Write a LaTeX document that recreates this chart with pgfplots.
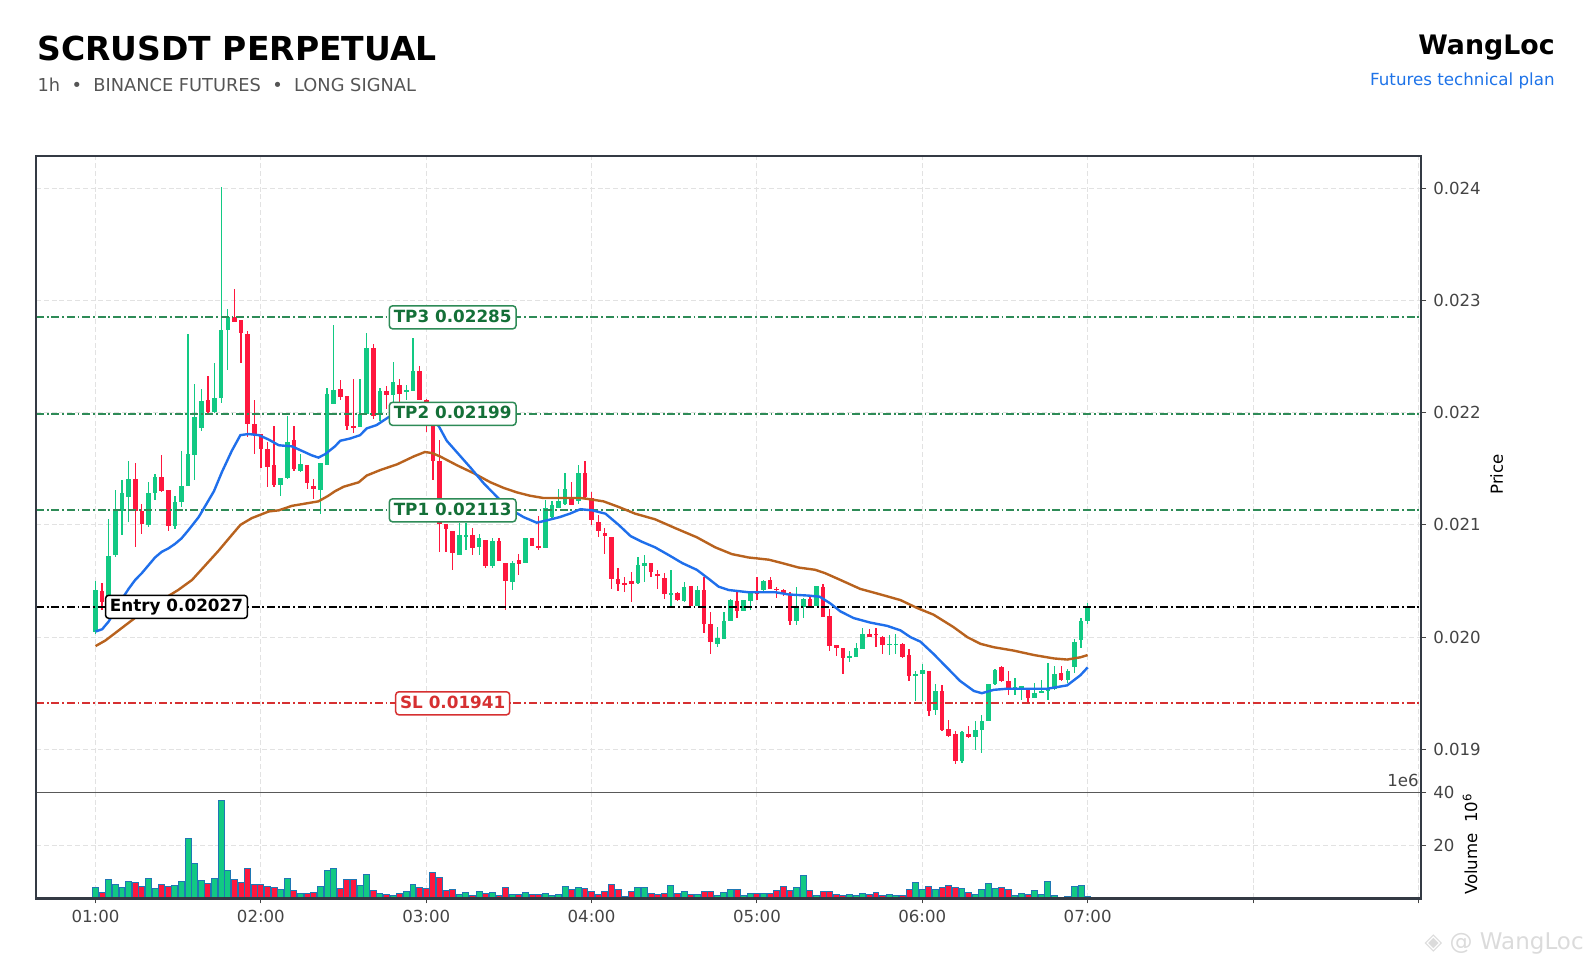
\documentclass[border=0pt]{standalone}
\usepackage{fontspec}
\setmainfont{DejaVu Sans}
\usepackage{pgfplots}
\usepackage{pgfplotstable}
\pgfplotsset{compat=1.18}

\definecolor{cgreen}{RGB}{18,201,131}
\definecolor{cred}{RGB}{255,23,62}
\definecolor{framec}{RGB}{52,58,68}
\definecolor{gridc}{RGB}{226,226,226}
\definecolor{tickc}{RGB}{68,68,68}
\definecolor{mablue}{RGB}{31,111,235}
\definecolor{mabrown}{RGB}{184,98,30}
\definecolor{tpline}{RGB}{46,139,87}
\definecolor{tptext}{RGB}{20,112,56}
\definecolor{slc}{RGB}{214,48,49}
\definecolor{voledge}{RGB}{31,119,180}
\definecolor{subc}{RGB}{85,85,85}
\definecolor{linkblue}{RGB}{30,115,232}

% candles: i = candle index (25 per hour, 0 = 01:00), o h l c, v = volume (1e6)
\pgfplotstableread{
i o h l c v
0 0.02005 0.02050 0.02003 0.02042 4.2
2 0.02031 0.02105 0.02028 0.02072 7.2
3 0.02073 0.02131 0.02071 0.02112 5.3
4 0.02112 0.02140 0.02091 0.02128 4.2
5 0.02125 0.02157 0.02103 0.02141 6.5
8 0.02100 0.02138 0.02098 0.02128 7.6
9 0.02128 0.02145 0.02122 0.02143 3.8
12 0.02099 0.02126 0.02096 0.02120 4.9
13 0.02120 0.02166 0.02116 0.02135 6.5
14 0.02135 0.02270 0.02135 0.02163 22.4
15 0.02162 0.02226 0.02140 0.02196 13.3
16 0.02186 0.02221 0.02184 0.02210 6.8
18 0.02201 0.02244 0.02200 0.02213 7.6
19 0.02213 0.02401 0.02209 0.02274 36.8
20 0.02274 0.02292 0.02238 0.02285 10.6
28 0.02136 0.02142 0.02126 0.02142 3.4
29 0.02142 0.02197 0.02141 0.02174 7.6
31 0.02148 0.02163 0.02147 0.02154 1.9
34 0.02131 0.02155 0.02110 0.02155 4.6
35 0.02153 0.02222 0.02153 0.02217 10.6
36 0.02208 0.02278 0.02208 0.02220 11.4
40 0.02187 0.02230 0.02187 0.02199 4.9
41 0.02199 0.02271 0.02199 0.02258 9.1
43 0.02199 0.02222 0.02193 0.02219 1.9
45 0.02216 0.02245 0.02199 0.02227 1.1
47 0.02219 0.02225 0.02211 0.02220 2.7
48 0.02219 0.02267 0.02219 0.02237 5.3
55 0.02073 0.02102 0.02073 0.02091 1.5
56 0.02089 0.02102 0.02078 0.02091 2.3
58 0.02080 0.02092 0.02073 0.02088 2.7
60 0.02063 0.02088 0.02062 0.02086 2.3
63 0.02049 0.02068 0.02042 0.02066 1.5
65 0.02066 0.02088 0.02066 0.02088 2.3
68 0.02079 0.02122 0.02079 0.02115 1.9
69 0.02107 0.02121 0.02106 0.02118 1.1
70 0.02115 0.02132 0.02115 0.02121 1.5
71 0.02119 0.02146 0.02118 0.02132 4.6
73 0.02121 0.02153 0.02119 0.02146 4.2
82 0.02048 0.02071 0.02047 0.02064 4.2
83 0.02063 0.02073 0.02049 0.02066 4.2
87 0.02038 0.02060 0.02028 0.02039 4.9
89 0.02032 0.02049 0.02031 0.02045 2.7
91 0.02028 0.02046 0.02028 0.02042 1.5
94 0.01994 0.02009 0.01991 0.01999 1.1
95 0.01998 0.02022 0.01998 0.02014 2.3
96 0.02014 0.02034 0.02014 0.02033 3.4
98 0.02023 0.02033 0.02023 0.02033 1.1
99 0.02032 0.02040 0.02024 0.02039 1.9
101 0.02042 0.02051 0.02041 0.02050 1.9
106 0.02014 0.02045 0.02011 0.02026 4.2
107 0.02027 0.02035 0.02017 0.02034 8.7
109 0.02028 0.02046 0.02028 0.02046 1.1
114 0.01982 0.01988 0.01978 0.01983 1.5
115 0.01982 0.01995 0.01982 0.01990 1.1
116 0.01989 0.02008 0.01989 0.02003 1.9
120 0.01993 0.02002 0.01984 0.01994 1.5
121 0.01993 0.02003 0.01985 0.01994 1.1
124 0.01965 0.01970 0.01943 0.01967 6.1
125 0.01967 0.01976 0.01943 0.01971 3.4
127 0.01935 0.01958 0.01931 0.01952 3.4
131 0.01890 0.01916 0.01888 0.01915 3.8
133 0.01911 0.01925 0.01899 0.01917 1.5
134 0.01917 0.01931 0.01897 0.01925 3.4
135 0.01925 0.01958 0.01925 0.01958 5.7
136 0.01958 0.01972 0.01957 0.01971 3.8
139 0.01954 0.01964 0.01948 0.01955 1.1
140 0.01955 0.01956 0.01944 0.01956 1.9
142 0.01946 0.01959 0.01946 0.01950 3.0
143 0.01951 0.01962 0.01951 0.01952 1.5
144 0.01952 0.01977 0.01944 0.01954 6.5
145 0.01954 0.01974 0.01953 0.01967 1.1
147 0.01962 0.01972 0.01959 0.01970 0.8
148 0.01973 0.01998 0.01968 0.01996 4.6
149 0.01997 0.02017 0.01990 0.02014 4.9
150 0.02014 0.02030 0.02012 0.02026 0.8
}\greens

\pgfplotstableread{
i o h l c v
1 0.02041 0.02048 0.02024 0.02031 2.3
6 0.02141 0.02155 0.02080 0.02112 6.1
7 0.02112 0.02119 0.02092 0.02101 4.6
10 0.02143 0.02162 0.02129 0.02130 5.3
11 0.02131 0.02131 0.02095 0.02099 4.6
17 0.02211 0.02233 0.02199 0.02201 5.7
21 0.02285 0.02310 0.02281 0.02281 7.2
22 0.02283 0.02283 0.02244 0.02271 6.1
23 0.02270 0.02273 0.02178 0.02190 11.4
24 0.02190 0.02211 0.02163 0.02181 5.3
25 0.02181 0.02181 0.02151 0.02168 5.3
26 0.02168 0.02174 0.02134 0.02152 4.6
27 0.02153 0.02188 0.02134 0.02136 4.2
30 0.02176 0.02188 0.02148 0.02150 3.0
32 0.02153 0.02153 0.02132 0.02137 1.9
33 0.02135 0.02141 0.02123 0.02132 2.3
37 0.02221 0.02229 0.02211 0.02214 3.8
38 0.02215 0.02215 0.02185 0.02188 7.2
39 0.02188 0.02230 0.02182 0.02187 7.2
42 0.02258 0.02261 0.02194 0.02197 3.0
44 0.02219 0.02224 0.02203 0.02216 1.5
46 0.02225 0.02230 0.02202 0.02217 1.9
49 0.02237 0.02242 0.02211 0.02211 4.2
50 0.02211 0.02212 0.02183 0.02188 3.8
51 0.02188 0.02188 0.02140 0.02157 9.9
52 0.02157 0.02176 0.02076 0.02101 8.0
53 0.02101 0.02101 0.02076 0.02096 3.0
54 0.02095 0.02095 0.02060 0.02075 3.4
57 0.02091 0.02097 0.02073 0.02079 1.1
59 0.02087 0.02087 0.02062 0.02063 1.9
61 0.02086 0.02088 0.02068 0.02068 1.1
62 0.02066 0.02066 0.02024 0.02050 4.2
64 0.02069 0.02074 0.02055 0.02065 1.5
66 0.02088 0.02088 0.02081 0.02081 1.5
67 0.02081 0.02108 0.02078 0.02079 1.5
72 0.02125 0.02138 0.02118 0.02118 3.4
74 0.02146 0.02157 0.02124 0.02125 3.8
75 0.02124 0.02129 0.02100 0.02104 2.7
76 0.02103 0.02109 0.02089 0.02095 1.5
77 0.02093 0.02097 0.02074 0.02090 2.7
78 0.02089 0.02089 0.02043 0.02052 5.3
79 0.02052 0.02062 0.02041 0.02047 3.4
80 0.02048 0.02054 0.02040 0.02047 0.8
81 0.02050 0.02058 0.02031 0.02047 2.7
84 0.02066 0.02066 0.02054 0.02058 1.9
85 0.02056 0.02060 0.02043 0.02055 1.5
86 0.02053 0.02057 0.02034 0.02038 1.9
88 0.02039 0.02040 0.02032 0.02033 1.9
90 0.02046 0.02046 0.02028 0.02028 1.5
92 0.02042 0.02054 0.02004 0.02012 2.7
93 0.02012 0.02022 0.01985 0.01996 2.7
97 0.02032 0.02040 0.02017 0.02023 3.4
100 0.02040 0.02054 0.02033 0.02038 1.9
102 0.02051 0.02054 0.02043 0.02043 1.9
103 0.02043 0.02045 0.02035 0.02042 3.0
104 0.02042 0.02043 0.02037 0.02038 4.6
105 0.02038 0.02040 0.02011 0.02014 3.0
108 0.02034 0.02036 0.02027 0.02028 3.0
110 0.02045 0.02047 0.02018 0.02018 2.7
111 0.02019 0.02025 0.01988 0.01992 2.7
112 0.01993 0.01993 0.01983 0.01990 1.5
113 0.01990 0.01990 0.01967 0.01981 1.1
117 0.02003 0.02007 0.02000 0.02000 1.5
118 0.02003 0.02008 0.01991 0.02002 2.3
119 0.02000 0.02001 0.01985 0.01993 1.1
122 0.01994 0.01995 0.01981 0.01982 1.1
123 0.01984 0.01989 0.01961 0.01965 3.4
126 0.01970 0.01970 0.01930 0.01934 4.6
128 0.01952 0.01957 0.01916 0.01917 4.2
129 0.01918 0.01926 0.01911 0.01912 4.9
130 0.01914 0.01916 0.01887 0.01890 4.2
132 0.01914 0.01921 0.01910 0.01911 2.3
137 0.01973 0.01974 0.01960 0.01961 4.2
138 0.01961 0.01970 0.01948 0.01954 3.4
141 0.01954 0.01955 0.01942 0.01946 1.5
146 0.01968 0.01974 0.01961 0.01962 0.4
}\reds

\pgfplotstableread{
i p
0 0.02005
1 0.02007
2 0.02014
3 0.02024
4 0.02034
5 0.02043
6 0.02051
7 0.02057
8 0.02064
9 0.02071
10 0.02076
11 0.02079
12 0.02083
13 0.02088
14 0.02095
15.6 0.02107
17.9 0.02130
19.1 0.02147
20.6 0.02166
21.9 0.02180
23.1 0.02181
24.7 0.02180
26.2 0.02176
27.7 0.02171
29.7 0.02170
31.2 0.02166
32.7 0.02162
33.7 0.02160
34.7 0.02163
36.2 0.02170
37.0 0.02175
38.5 0.02177
40.0 0.02180
41.0 0.02186
42.5 0.02189
44.3 0.02196
46.5 0.02200
48.5 0.02202
50.5 0.02196
51.9 0.02188
53.1 0.02175
54.9 0.02163
56.7 0.02151
58.7 0.02137
60.7 0.02125
62.7 0.02114
64.7 0.02107
66.7 0.02102
68.2 0.02104
70.2 0.02107
71.7 0.02110
73.3 0.02114
75.1 0.02113
77.1 0.02110
79.1 0.02100
80.9 0.02090
82.6 0.02085
84.6 0.02080
86.7 0.02073
88.7 0.02066
90.9 0.02060
92.7 0.02052
94.2 0.02045
95.7 0.02042
98.7 0.02040
102.8 0.02040
104.8 0.02038
107.8 0.02037
109.5 0.02036
111.1 0.02030
112.6 0.02023
114.6 0.02017
117.1 0.02013
119.7 0.02010
121.7 0.02006
123.2 0.02000
124.7 0.01996
126.7 0.01985
128.7 0.01973
130.7 0.01961
132.8 0.01952
134.0 0.01950
135.8 0.01953
137.8 0.01954
143.9 0.01954
146.9 0.01957
148.9 0.01966
150 0.01973
}\mafast

\pgfplotstableread{
i p
0 0.01992
1.5 0.01997
3.5 0.02006
5.5 0.02015
7.5 0.02024
10.0 0.02033
12.5 0.02042
14.6 0.02051
16.6 0.02064
18.6 0.02077
20.6 0.02091
21.9 0.02100
23.6 0.02106
26.2 0.02112
27.7 0.02113
29.7 0.02117
31.7 0.02119
33.7 0.02121
35.2 0.02126
36.2 0.02130
37.5 0.02134
39.8 0.02138
41.0 0.02144
43.1 0.02149
45.6 0.02154
48.1 0.02161
49.8 0.02165
50.9 0.02164
52.1 0.02161
54.7 0.02153
57.2 0.02146
59.7 0.02138
61.7 0.02133
63.7 0.02129
65.7 0.02126
67.7 0.02124
73.3 0.02124
74.6 0.02123
76.8 0.02121
79.1 0.02116
81.6 0.02110
84.6 0.02105
87.7 0.02097
90.9 0.02089
93.7 0.02080
96.2 0.02074
98.7 0.02071
101.8 0.02069
103.8 0.02066
106.3 0.02062
108.8 0.02060
110.3 0.02057
112.6 0.02051
115.6 0.02043
118.7 0.02038
121.7 0.02033
124.2 0.02026
126.7 0.02020
129.7 0.02009
131.8 0.02000
133.8 0.01994
135.8 0.01991
138.8 0.01988
141.9 0.01984
144.9 0.01981
146.9 0.01980
148.9 0.01982
150 0.01984
}\maslow

\newcommand{\tickfont}{\fontsize{8.3pt}{10pt}\selectfont}
\newcommand{\lblfont}{\fontsize{8.4pt}{10pt}\selectfont\bfseries}

\tikzset{
  levelline/.style={line width=0.9pt, dash pattern=on 4pt off 1.4pt on 0.9pt off 1.4pt},
  lvlbox/.style={draw, fill=white, rounded corners=1.6pt, line width=0.75pt,
    font=\lblfont, inner xsep=2.2pt, inner ysep=1.8pt, text height=6.4pt, text depth=1.5pt},
}
\pgfplotsset{
  chartbase/.style={
    scale only axis, anchor=south west,
    width=692.5pt,
    xmin=-9, xmax=200.4,
    axis line style={draw=none},
    xtick={0,25,...,200},
    tick align=outside,
    major tick length=2.6pt,
    tick style={color=tickc, line width=0.5pt},
    ytick pos=right, yticklabel pos=right,
    scaled y ticks=false, scaled x ticks=false,
    grid=major,
    major grid style={color=gridc, line width=0.5pt, dash pattern=on 2.5pt off 1.4pt},
    ticklabel style={font=\tickfont, text=tickc},
    clip=true,
  },
  candle/.style 2 args={draw=none, mark=none, forget plot,
    error bars/.cd, y dir=both, y explicit, error mark=none,
    error bar style={draw=#1, line width=#2}},
}

\begin{document}
\begin{tikzpicture}
\path[use as bounding box] (0,0) rectangle (795pt,481pt);

% titles
\node[anchor=base west, inner sep=0pt, font=\fontsize{16.5pt}{19pt}\selectfont\bfseries] at (18.6pt,450.6pt) {SCRUSDT PERPETUAL};
\node[anchor=base west, inner sep=0pt, font=\fontsize{8.9pt}{11pt}\selectfont, text=subc] at (18.6pt,435.0pt) {1h\ \ •\ \ BINANCE FUTURES\ \ •\ \ LONG SIGNAL};
\node[anchor=base east, inner sep=0pt, font=\fontsize{13.4pt}{16pt}\selectfont\bfseries] at (777.5pt,453.5pt) {WangLoc};
\node[anchor=base east, inner sep=0pt, font=\fontsize{8.35pt}{10pt}\selectfont, text=linkblue] at (777.5pt,438pt) {Futures technical plan};

% ---------- price panel ----------
\begin{axis}[chartbase,
  name=price, at={(18pt,84.85pt)}, height=318.15pt,
  ymin=0.018617, ymax=0.024288,
  xticklabels={},
  x tick style={draw=none},
  ytick={0.019,0.020,0.021,0.022,0.023,0.024},
  yticklabels={0.019,0.020,0.021,0.022,0.023,0.024},
]
% wicks
\addplot[candle={cgreen}{0.65pt}]
  table[x=i, y expr={(\thisrow{h}+\thisrow{l})/2}, y error expr={(\thisrow{h}-\thisrow{l})/2}] {\greens};
\addplot[candle={cred}{0.65pt}]
  table[x=i, y expr={(\thisrow{h}+\thisrow{l})/2}, y error expr={(\thisrow{h}-\thisrow{l})/2}] {\reds};
% bodies
\addplot[candle={cgreen}{2.3pt}]
  table[x=i, y expr={(\thisrow{o}+\thisrow{c})/2}, y error expr={max(abs(\thisrow{c}-\thisrow{o})/2,0.000006)}] {\greens};
\addplot[candle={cred}{2.3pt}]
  table[x=i, y expr={(\thisrow{o}+\thisrow{c})/2}, y error expr={max(abs(\thisrow{c}-\thisrow{o})/2,0.000006)}] {\reds};
% level lines
\addplot[levelline, tpline] coordinates {(-9,0.02285) (200.4,0.02285)};
\addplot[levelline, tpline] coordinates {(-9,0.02199) (200.4,0.02199)};
\addplot[levelline, tpline] coordinates {(-9,0.02113) (200.4,0.02113)};
\addplot[levelline, black] coordinates {(-9,0.02027) (200.4,0.02027)};
\addplot[levelline, slc] coordinates {(-9,0.01941) (200.4,0.01941)};
% moving averages
\addplot[mabrown, line width=1.2pt] table[x=i, y=p] {\maslow};
\addplot[mablue, line width=1.2pt] table[x=i, y=p] {\mafast};
% labels
\node[lvlbox, draw=tpline, text=tptext] at (axis cs:54,0.02285) {TP3 0.02285};
\node[lvlbox, draw=tpline, text=tptext] at (axis cs:54,0.02199) {TP2 0.02199};
\node[lvlbox, draw=tpline, text=tptext] at (axis cs:54,0.02113) {TP1 0.02113};
\node[lvlbox, draw=black, text=black, anchor=west] at (axis cs:1.4,0.02027) {Entry 0.02027};
\node[lvlbox, draw=slc, text=slc] at (axis cs:54,0.01941) {SL 0.01941};
\end{axis}

% ---------- volume panel ----------
\begin{axis}[chartbase,
  name=vol, at={(18pt,31.85pt)}, height=53pt,
  ymin=0, ymax=40,
  xticklabels={01:00,02:00,03:00,04:00,05:00,06:00,07:00,,},
  xtick pos=bottom,
  ytick={20,40}, yticklabels={20,40},
]
\addplot[ybar, bar width=0.9, bar shift=0pt, fill=cgreen, draw=voledge, line width=0.5pt] table[x=i, y=v] {\greens};
\addplot[ybar, bar width=0.9, bar shift=0pt, fill=cred, draw=voledge, line width=0.5pt] table[x=i, y=v] {\reds};
\end{axis}

% frame and separator
\draw[color=gray!70!black, line width=0.6pt] (18pt,84.85pt) -- (710.5pt,84.85pt);
\draw[color=framec, line width=1.3pt] (18pt,31.85pt) rectangle (710.5pt,403pt);

% axis labels
\node[rotate=90, font=\fontsize{8.3pt}{10pt}\selectfont] at (748.3pt,243.8pt) {Price};
\node[rotate=90, font=\fontsize{8.3pt}{10pt}\selectfont] at (735pt,59pt) {Volume\ \ 10\textsuperscript{6}};
\node[anchor=base east, inner sep=0pt, font=\tickfont, text=tickc] at (709.5pt,87.7pt) {1e6};

% watermark
\node[anchor=base east, inner sep=0pt, font=\fontsize{11.5pt}{13pt}\selectfont, text=gray!28] at (792pt,6pt) {◈ @ WangLoc};
\end{tikzpicture}
\end{document}
